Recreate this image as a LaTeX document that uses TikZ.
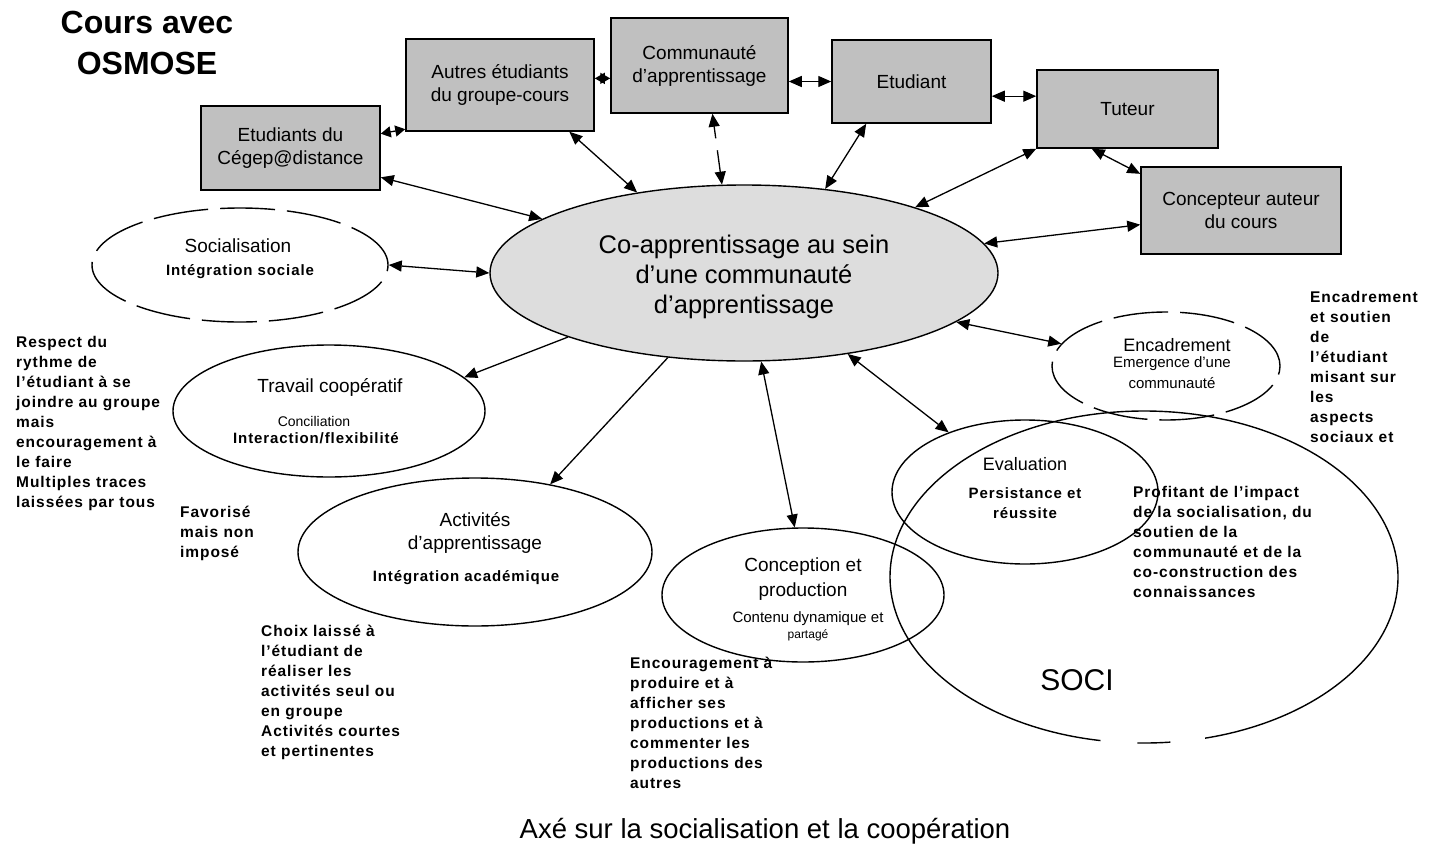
\documentclass[tikz,border=0pt]{standalone}
\usepackage{fontspec}
\setmainfont{Liberation Sans}
\usetikzlibrary{shapes.geometric,arrows.meta,calc}
\definecolor{boxgray}{RGB}{192,192,192}
\definecolor{hubgray}{RGB}{221,221,221}

\begin{document}
\begin{tikzpicture}[x=1pt,y=-1pt,
  box/.style={draw=black,line width=1.5pt,fill=boxgray,inner sep=0pt,align=center,
              font=\fontsize{19}{23}\selectfont},
  oval/.style={ellipse,draw=black,line width=1.4pt,inner sep=0pt},
  longdash/.style={dash pattern=on 55pt off 12pt},
  ttl/.style={font=\fontsize{19}{23}\selectfont,align=center,inner sep=0pt},
  sub/.style={font=\bfseries\fontsize{15}{19}\selectfont\addfontfeature{LetterSpace=6},align=center,inner sep=0pt},
  note/.style={font=\bfseries\fontsize{15.5}{20}\selectfont\addfontfeature{LetterSpace=6},align=left,inner sep=0pt,anchor=north west},
  tip/.tip={Triangle[length=13pt,width=11pt]},
  stip/.tip={Triangle[length=10pt,width=11pt]},
  link/.style={tip-tip,line width=1.3pt},
  shortlink/.style={stip-stip,line width=1.3pt},
  link1/.style={-tip,line width=1.3pt}]

\fill[white] (0,0) rectangle (1430,846);
\useasboundingbox (0,0) rectangle (1430,846);

% title and caption
\node[font=\bfseries\fontsize{32}{41}\selectfont,align=center,inner sep=0pt] (title) at (147,43) {Cours avec\\OSMOSE};
\node[font=\fontsize{27.5}{30}\selectfont,inner sep=0pt] (caption) at (765,831) {Axé sur la socialisation et la coopération};

% actors (grey boxes)
\node[box,minimum width=179pt,minimum height=84pt] (b1) at (290.5,148) {Etudiants du\\Cégep@distance};
\node[box,minimum width=188pt,minimum height=92pt] (b2) at (500,85) {Autres étudiants\\du groupe-cours};
\node[box,minimum width=177pt,minimum height=95pt] (b3) at (699.5,65.5) {Communauté\\d'apprentissage};
\node[box,minimum width=159pt,minimum height=83pt] (b4) at (911.5,81.5) {Etudiant};
\node[box,minimum width=181pt,minimum height=78pt] (b5) at (1127.5,109) {Tuteur};
\node[box,minimum width=200pt,minimum height=87pt] (b6) at (1241,210.5) {Concepteur auteur\\du cours};

% central hub
\node[oval,fill=hubgray,minimum width=508pt,minimum height=176pt] (hub) at (744,273) {};
\node[font=\fontsize{25.5}{30}\selectfont,align=center,inner sep=0pt] (hubtext) at (744,277)
  {Co-apprentissage au sein\\d'une communauté\\d'apprentissage};

% surrounding ellipses
\node[oval,longdash,minimum width=296pt,minimum height=114pt] (soc) at (240,265) {};
\node[oval,minimum width=312pt,minimum height=132pt] (trav) at (329,411) {};
\node[oval,minimum width=354pt,minimum height=148pt] (act) at (475,552) {};
\node[oval,minimum width=282pt,minimum height=134pt] (conc) at (803,595) {};
\node[oval,longdash,minimum width=228pt,minimum height=108pt] (enc) at (1166,366) {};
\node[oval,minimum width=266pt,minimum height=144pt] (eval) at (1025,492) {};
\node[oval,dash pattern=on 957pt off 37pt on 33pt off 35pt on 400pt,minimum width=508pt,minimum height=332pt] (soci) at (1144,577) {};

% ellipse labels
\node[ttl] (soct) at (238,246) {Socialisation};
\node[sub] (socs) at (240,272) {Intégration sociale};
\node[ttl] (travt) at (330,387) {Travail coopératif};
\node[font=\fontsize{14}{17}\selectfont,inner sep=0pt] (travc) at (314,421) {Conciliation};
\node[sub] (travs) at (316,438) {Interaction/flexibilité};
\node[ttl] (actt) at (475,532.5) {Activités\\d'apprentissage};
\node[sub] (acts) at (466,578) {Intégration académique};
\node[ttl,font=\fontsize{19}{25}\selectfont] (conct) at (803,579.5) {Conception et\\production};
\node[font=\fontsize{15}{18}\selectfont,inner sep=0pt] (concs) at (808,619) {Contenu dynamique et};
\node[font=\fontsize{12}{14}\selectfont,inner sep=0pt] (concp) at (808,635) {partagé};
\node[font=\fontsize{18}{22}\selectfont,inner sep=0pt] (enct) at (1177,345) {Encadrement};
\node[font=\fontsize{15}{21}\selectfont,align=center,inner sep=0pt] (encs) at (1172,373) {Emergence d'une\\communauté};
\node[font=\fontsize{18}{22}\selectfont,inner sep=0pt] (evalt) at (1025,464) {Evaluation};
\node[sub,font=\bfseries\fontsize{15}{20}\selectfont\addfontfeature{LetterSpace=6}] (evals) at (1025,503) {Persistance et\\réussite};
\node[font=\fontsize{30}{34}\selectfont,inner sep=0pt] (socit) at (1077,680) {SOCI};

% side notes
\node[note] (n1) at (16,336) {Respect du\\rythme de\\l'étudiant à se\\joindre au groupe\\mais\\encouragement à\\le faire\\Multiples traces\\laissées par tous};
\node[note] (n2) at (180,506) {Favorisé\\mais non\\imposé};
\node[note] (n3) at (261,625) {Choix laissé à\\l'étudiant de\\réaliser les\\activités seul ou\\en groupe\\Activités courtes\\et pertinentes};
\node[note] (n4) at (630,657) {Encouragement à\\produire et à\\afficher ses\\productions et à\\commenter les\\productions des\\autres};
\node[note] (n5) at (1133,486) {Profitant de l'impact\\de la socialisation, du\\soutien de la\\communauté et de la\\co-construction des\\connaissances};
\node[note] (n6) at (1310,291) {Encadrement\\et soutien\\de\\l'étudiant\\misant sur\\les\\aspects\\sociaux et};

% links between actors
\draw[shortlink] (b1.9) -- (b2.205);
\draw[shortlink] (b2.4) -- (b3.west |- b2.4);
\draw[link] (b3.east |- b4.west) -- (b4.west);
\draw[link] (b4.east |- b5.172) -- (b5.172);
\draw[link] (b5.228) -- (b6.160);

% links from the hub
\draw[link] (hub.165) -- (b1.-18);
\draw[link] (hub.143) -- (b2.-34);
\draw[link,dash pattern=on 22pt off 12pt] (hub.104) -- (b3.-75);
\draw[link] (hub.46) -- (b4.223);
\draw[link] (hub.21) -- (b5.south west);
\draw[link] (hub.7) -- (b6.188);
\draw[link] (hub.180) -- (soc.0);
\draw[link1] (hub.200) -- (trav.14);
\draw[link1] (hub.228) -- (act.42);
\draw[link] (hub.281) -- (conc.97);
\draw[link] (hub.322) -- (eval.142);
\draw[link] (hub.347) -- (enc.168);

\end{tikzpicture}
\end{document}
